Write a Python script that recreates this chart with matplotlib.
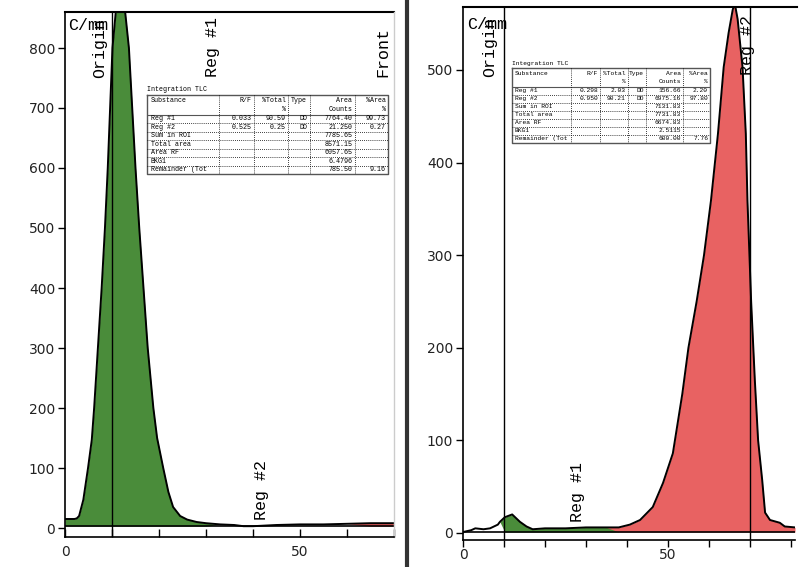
import matplotlib.pyplot as plt

# left chromatogram (distance mm, counts per mm)
left_x = [0, 1, 2, 2.5, 3.0, 3.9, 4.9, 5.7, 6.2, 7.0, 7.8, 8.5, 9.1, 9.6, 10.1, 10.8, 11.8,
          12.8, 13.6, 14.3, 15.0, 15.8, 16.7, 17.6, 18.8, 19.6, 20.9, 22.0, 23.0, 24.5,
          26.0, 28.0, 30.0, 33.0, 36.0, 38.0, 40.0, 45.0, 50.0, 55.0, 60.0, 65.0, 70.0]
left_y = [15, 15, 15, 16, 20, 47, 100, 147, 200, 300, 400, 500, 600, 700, 800, 860, 900,
          860, 800, 700, 600, 500, 400, 300, 200, 150, 100, 60, 35, 20,
          14, 10, 8, 6, 5, 3, 3, 5, 6, 6, 7, 8, 8]
left_base = 3

# right chromatogram
right_x = [0, 2, 3, 5, 6.6, 8.5, 9.0, 10.2, 12.0, 13.9, 15.5, 17.0, 20, 25, 30, 35, 38,
           40.7, 43.2, 46.3, 48.8, 51.2, 53.5, 55.0, 57.0, 58.8, 60.5, 62.2, 63.6, 64.8,
           65.8, 66.3, 67.0, 68.2, 69.0, 69.4, 70.3, 71.2, 72.0, 73.0, 73.7, 74.9, 77.3,
           78.5, 81]
right_y = [1, 3, 5, 4, 5, 9, 12, 17, 20, 12, 7, 4, 5, 5, 6, 6, 6,
           9, 14, 28, 54, 86, 150, 200, 250, 300, 359, 431, 503, 540,
           565, 572, 555, 503, 431, 359, 250, 165, 100, 57, 22, 14, 11,
           7, 6]
right_base = 1

left_regions = [(0, 30, '#4a8c3a'), (61, 70, '#e25a5a')]
right_regions = [(10, 38, '#4a8c3a'), (38, 81, '#e86262')]

table_cols = ['Substance', 'R/F', '%Total', 'Type', 'Area', '%Area']
table_cols2 = ['', '', '%', '', 'Counts', '%']
row_names = ['Reg #1', 'Reg #2', 'Sum in ROI', 'Total area', 'Area RF', 'BKG1', 'Remainder (Tot']
left_table = [
    ['0.033', '90.59', 'DD', '7764.40', '99.73'],
    ['0.525', '0.25', 'DD', '21.250', '0.27'],
    ['', '', '', '7785.65', ''],
    ['', '', '', '8571.15', ''],
    ['', '', '', '6057.65', ''],
    ['', '', '', '6.4796', ''],
    ['', '', '', '785.50', '9.16'],
]
right_table = [
    ['0.298', '2.03', 'DD', '156.66', '2.20'],
    ['0.950', '90.21', 'DD', '6975.16', '97.80'],
    ['', '', '', '7131.83', ''],
    ['', '', '', '7731.83', ''],
    ['', '', '', '6674.83', ''],
    ['', '', '', '2.5115', ''],
    ['', '', '', '600.00', '7.76'],
]

W, H = 800, 567
mono = 'Liberation Mono'
fig = plt.figure(figsize=(W / 100, H / 100), dpi=100)


def px_axes(x0, y0, x1, y1):
    return fig.add_axes([x0 / W, 1 - y1 / H, (x1 - x0) / W, (y1 - y0) / H])


def draw_curve(ax, xs, ys, base, regions):
    for a, b, c in regions:
        ax.fill_between(xs, ys, base, where=[a <= v <= b for v in xs],
                        interpolate=True, color=c, lw=0)
    ax.plot(xs, ys, color='black', lw=1.4)
    ax.plot([xs[0], xs[-1]], [base, base], color='black', lw=1.2)


def draw_table(x0, y0, x1, y1, data, fs):
    fig.text(x0 / W, 1 - (y0 - 2) / H, 'Integration TLC', family=mono,
             fontsize=fs, va='bottom', ha='left')
    t = px_axes(x0, y0, x1, y1)
    t.set_xlim(0, 1)
    t.set_ylim(1, 0)
    t.axis('off')
    edges = [0, 0.30, 0.445, 0.585, 0.675, 0.862, 1.0]
    head = 0.25
    rh = (1 - head) / len(row_names)
    t.plot([0, 1, 1, 0, 0], [0, 0, 1, 1, 0], color='#555555', lw=1.0, clip_on=False)
    t.plot([0, 1], [head, head], color='#555555', lw=0.8)
    for e in edges[1:-1]:
        t.plot([e, e], [0, 1], color='black', lw=0.6, ls=(0, (1, 1.5)))
    for i in range(1, len(row_names)):
        yy = head + i * rh
        t.plot([0, 1], [yy, yy], color='black', lw=0.6, ls=(0, (1, 1.5)))
    for j, (c1, c2) in enumerate(zip(table_cols, table_cols2)):
        if j == 0:
            t.text(0.015, 0.07, c1, family=mono, fontsize=fs, va='center', ha='left')
        else:
            t.text(edges[j + 1] - 0.01, 0.07, c1, family=mono, fontsize=fs, va='center', ha='right')
            t.text(edges[j + 1] - 0.01, 0.18, c2, family=mono, fontsize=fs, va='center', ha='right')
    for i, name in enumerate(row_names):
        yy = head + (i + 0.5) * rh
        t.text(0.015, yy, name, family=mono, fontsize=fs, va='center', ha='left')
        for j, val in enumerate(data[i]):
            t.text(edges[j + 2] - 0.01, yy, val, family=mono, fontsize=fs, va='center', ha='right')


def style_axes(ax, xmax, ylim, yticks, xdir, xpad):
    ax.set_xlim(0, xmax)
    ax.set_ylim(*ylim)
    ax.spines['right'].set_visible(False)
    ax.spines['top'].set_visible(False)
    ax.set_yticks(yticks)
    ax.set_xticks(range(0, xmax + 1, 10))
    ax.set_xticklabels(['0' if v == 0 else '50' if v == 50 else '' for v in range(0, xmax + 1, 10)])
    ax.tick_params(axis='y', direction='out', length=5, width=1, labelsize=10,
                   labelcolor='#222222', pad=2)
    ax.tick_params(axis='x', direction=xdir, length=6, width=1, labelsize=10,
                   labelcolor='#222222', pad=xpad)
    ax.spines['left'].set_linewidth(1.2)
    ax.spines['bottom'].set_linewidth(1.2)


# left panel
ax1 = px_axes(65, 12, 394, 537)
draw_curve(ax1, left_x, left_y, left_base, left_regions)
style_axes(ax1, 70, (-15, 860), range(0, 801, 100), 'in', 6)
ax1.plot([0, 70], [860, 860], color='black', lw=1.5, clip_on=False)
ax1.plot([70, 70], [-15, 860], color='#cccccc', lw=1, clip_on=False)
ax1.axvline(10, color='black', lw=1)
ax1.text(0.6, 838, 'C/mm', family=mono, fontsize=12, va='center', ha='left')
ax1.text(7.4, 850, 'Origin', family=mono, fontsize=12, rotation=90, va='top', ha='center')
ax1.text(31.3, 852, 'Reg #1', family=mono, fontsize=12, rotation=90, va='top', ha='center')
ax1.text(67.7, 835, 'Front', family=mono, fontsize=12, rotation=90, va='top', ha='center')
ax1.text(41.9, 13, 'Reg #2', family=mono, fontsize=12, rotation=90, va='bottom', ha='center')
draw_table(147, 95, 388, 174, left_table, 4.8)

# right panel
ax2 = px_axes(463, 7, 795, 540)
draw_curve(ax2, right_x, right_y, right_base, right_regions)
style_axes(ax2, 80, (-7.6, 568), range(0, 501, 100), 'out', 1)
ax2.tick_params(axis='x', length=5)
ax2.set_xlim(0, 81)
ax2.plot([0, 81.5], [568, 568], color='black', lw=1.5, clip_on=False)
ax2.axvline(10, color='black', lw=1)
ax2.axvline(70, color='black', lw=1)
ax2.text(1, 549, 'C/mm', family=mono, fontsize=12, va='center', ha='left')
ax2.text(6.6, 557, 'Origin', family=mono, fontsize=12, rotation=90, va='top', ha='center')
ax2.text(69.5, 559, 'Reg #2', family=mono, fontsize=12, rotation=90, va='top', ha='center')
ax2.text(28, 12, 'Reg #1', family=mono, fontsize=12, rotation=90, va='bottom', ha='center')
draw_table(512, 68, 710, 143, right_table, 4.5)

# divider between the two screenshots
fig.add_artist(plt.Line2D([407 / W, 407 / W], [0, 1], color='#333333', lw=3))

fig.savefig('out.png', dpi=100)
